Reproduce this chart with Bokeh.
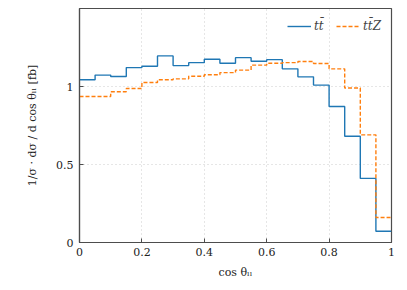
import numpy as np
from bokeh.plotting import figure
from bokeh.models import Range1d, FixedTicker, Legend, LegendItem
from bokeh.embed import file_html
from bokeh.resources import INLINE

edges = [0.0, 0.05, 0.1, 0.15, 0.2, 0.25, 0.3, 0.35, 0.4, 0.45, 0.5,
         0.55, 0.6, 0.65, 0.7, 0.75, 0.8, 0.85, 0.9, 0.95, 1.0]
tt = [1.043, 1.073, 1.064, 1.121, 1.130, 1.196, 1.134, 1.153, 1.175, 1.149,
      1.185, 1.162, 1.172, 1.113, 1.062, 1.009, 0.872, 0.681, 0.411, 0.072]
ttz = [0.936, 0.936, 0.966, 0.987, 1.026, 1.043, 1.049, 1.066, 1.075, 1.089,
       1.105, 1.137, 1.149, 1.153, 1.160, 1.147, 1.113, 0.990, 0.690, 0.160]
x_ticks = [0, 0.2, 0.4, 0.6, 0.8, 1]
y_ticks = [0, 0.5, 1]
labels = ["tt\u0304", "tt\u0304Z"]

FONT = "DejaVu Serif"
AX = "#4d4d4d"

p = figure(width=405, height=288, output_backend="svg", toolbar_location=None,
           x_range=Range1d(0, 1), y_range=Range1d(0, 1.5),
           min_border_left=79, min_border_right=14, min_border_top=8, min_border_bottom=46,
           background_fill_color="white", border_fill_color="white")
p.outline_line_color = AX
p.outline_line_width = 1.2

blue = "#1f77b4"
orange = "#ff7f0e"
r1 = p.step(edges, tt + [tt[-1]], mode="after", line_color=blue, line_width=1.4)
r2 = p.step(edges, ttz + [ttz[-1]], mode="after", line_color=orange, line_width=1.4,
            line_dash="4 2")

for ax in (p.xaxis[0], p.yaxis[0]):
    ax.axis_line_color = AX
    ax.axis_line_width = 1.2
    ax.major_tick_in = 4
    ax.major_tick_out = 0
    ax.minor_tick_line_color = None
    ax.major_tick_line_color = AX
    ax.major_label_text_font = FONT
    ax.major_label_text_font_size = "11px"
    ax.major_label_text_color = "#222222"
    ax.axis_label_text_font = FONT
    ax.axis_label_text_font_size = "11px"
    ax.axis_label_text_font_style = "normal"
    ax.axis_label_text_color = "#222222"

p.xaxis[0].ticker = FixedTicker(ticks=x_ticks)
p.yaxis[0].ticker = FixedTicker(ticks=y_ticks)
p.xaxis[0].major_label_overrides = {0: "0", 1: "1"}
p.yaxis[0].major_label_overrides = {0: "0", 1: "1"}
p.xaxis[0].axis_label = "cos \u03b8\u2097\u2097"
p.yaxis[0].axis_label = "1/\u03c3 \u00b7 d\u03c3 / d cos \u03b8\u2097\u2097 [fb]"
p.xaxis[0].major_label_standoff = 5
p.yaxis[0].major_label_standoff = 6
p.xaxis[0].axis_label_standoff = 7
p.yaxis[0].axis_label_standoff = 14

p.xgrid.ticker = FixedTicker(ticks=x_ticks)
p.ygrid.ticker = FixedTicker(ticks=y_ticks)
p.grid.grid_line_color = "#cccccc"
p.grid.grid_line_dash = "1 3"
p.grid.grid_line_width = 1

legend = Legend(items=[LegendItem(label=labels[0], renderers=[r1]),
                       LegendItem(label=labels[1], renderers=[r2])],
                orientation="horizontal", location="top_right")
legend.label_text_font = FONT
legend.label_text_font_size = "12px"
legend.label_text_font_style = "italic"
legend.border_line_color = None
legend.background_fill_alpha = 0
legend.glyph_width = 24
legend.spacing = 2
legend.label_standoff = 3
legend.padding = 4
legend.margin = 8
p.add_layout(legend)

open("out.html", "w").write(file_html(p, INLINE))
